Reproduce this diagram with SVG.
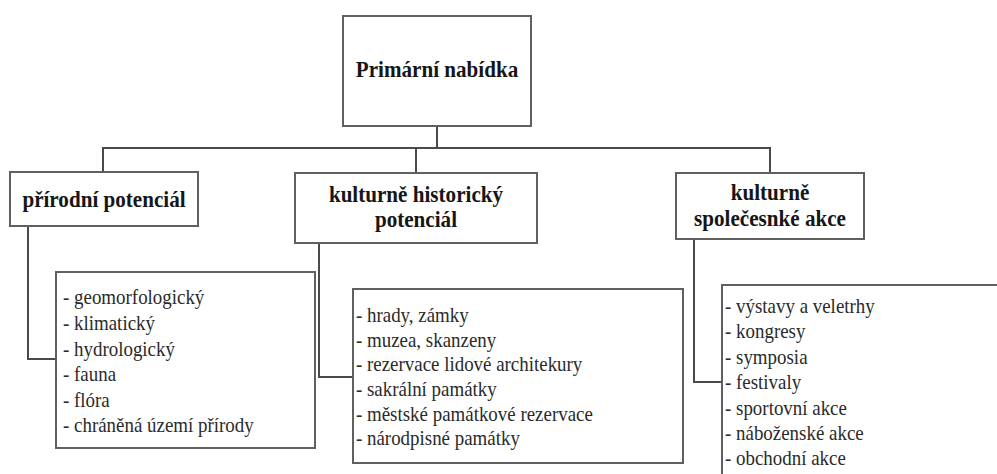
<svg xmlns="http://www.w3.org/2000/svg" width="997" height="474" viewBox="0 0 997 474">
<style>
.box{fill:#fff;stroke:#606060;stroke-width:2}
.con{fill:none;stroke:#4a4a4a;stroke-width:2}
.h{font-weight:bold;font-size:24px;fill:#161616;text-anchor:middle}
.l{font-size:21.5px;fill:#2a2a2a}
</style>
<rect width="997" height="474" fill="#fff"/>
<g id="connectors">
<path class="con" d="M437,126 V148"/>
<path class="con" d="M103,172 V148 H770 V173"/>
<path class="con" d="M437,148 H416 V173"/>
<path class="con" d="M28,226 V359 H56"/>
<path class="con" d="M319,243 V377 H353"/>
<path class="con" d="M694,239 V382 H722"/>
</g>
<g font-family="Liberation Serif">
<g id="primarni">
<rect class="box" x="343" y="16" width="188" height="110"/>
<g transform="scale(0.88 1)"><text class="h" x="496.6" y="77">Primární nabídka</text></g>
</g>
<g id="prirodni">
<rect class="box" x="10" y="172" width="188" height="54"/>
<g transform="scale(0.88 1)"><text class="h" x="118.2" y="207">přírodní potenciál</text></g>
</g>
<g id="kulturne-historicky">
<rect class="box" x="295" y="173" width="242" height="70"/>
<g transform="scale(0.88 1)"><text class="h" x="472.7" y="202">kulturně historický</text><text class="h" x="472.7" y="227">potenciál</text></g>
</g>
<g id="kulturne-spolecenske">
<rect class="box" x="676" y="173" width="188" height="66"/>
<g transform="scale(0.88 1)"><text class="h" x="875" y="200">kulturně</text><text class="h" x="875" y="226">společesnké akce</text></g>
</g>
<g id="list-prirodni">
<rect class="box" x="56" y="272" width="259" height="176"/>
<g transform="scale(0.88 1)">
<text class="l" x="71.6" y="304">- geomorfologický</text>
<text class="l" x="71.6" y="330">- klimatický</text>
<text class="l" x="71.6" y="356">- hydrologický</text>
<text class="l" x="71.6" y="381">- fauna</text>
<text class="l" x="71.6" y="407">- flóra</text>
<text class="l" x="71.6" y="432">- chráněná území přírody</text>
</g>
</g>
<g id="list-historicky">
<rect class="box" x="353" y="289" width="330" height="174"/>
<g transform="scale(0.88 1)">
<text class="l" x="404.5" y="322">- hrady, zámky</text>
<text class="l" x="404.5" y="347">- muzea, skanzeny</text>
<text class="l" x="404.5" y="371">- rezervace lidové architekury</text>
<text class="l" x="404.5" y="396">- sakrální památky</text>
<text class="l" x="404.5" y="421">- městské památkové rezervace</text>
<text class="l" x="404.5" y="445">- národpisné památky</text>
</g>
</g>
<g id="list-akce">
<rect class="box" x="722" y="285" width="290" height="200"/>
<g transform="scale(0.88 1)">
<text class="l" x="823.9" y="313">- výstavy  a veletrhy</text>
<text class="l" x="823.9" y="338">- kongresy</text>
<text class="l" x="823.9" y="364">- symposia</text>
<text class="l" x="823.9" y="389">- festivaly</text>
<text class="l" x="823.9" y="415">- sportovní akce</text>
<text class="l" x="823.9" y="440">- náboženské akce</text>
<text class="l" x="823.9" y="465">- obchodní akce</text>
</g>
</g>
</g>
</svg>
